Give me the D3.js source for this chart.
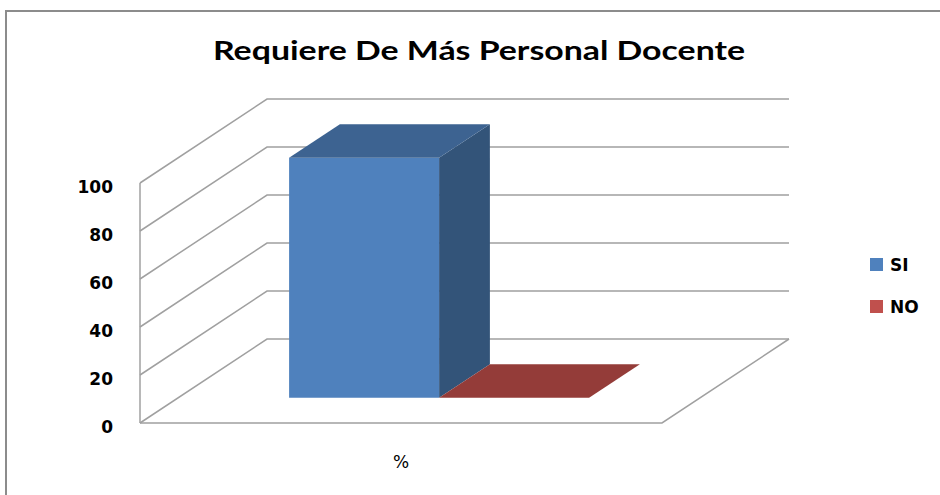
<!DOCTYPE html>
<html>
<head>
<meta charset="utf-8">
<script src="https://cdn.jsdelivr.net/npm/d3@7"></script>
<style>
  html, body { margin: 0; padding: 0; background: #fff; }
  svg { display: block; }
</style>
</head>
<body>
<svg id="chart" width="940" height="495"></svg>
<script>
const title = "Requiere De Más Personal Docente";
const categories = ["%"];
const seriesNames = ["SI", "NO"];
const seriesValues = [100, 0];
const yTicks = [0, 20, 40, 60, 80, 100];

const frontColors = ["#4F81BD", "#C0504D"];
const topColors = ["#3D6391", "#943C39"];
const sideColors = ["#335479", "#7A302E"];
const legendColors = ["#4F81BD", "#C0504D"];

const svg = d3.select("#chart");

// chart border
svg.append("rect")
  .attr("x", 6).attr("y", 11).attr("width", 1200).attr("height", 1200)
  .attr("fill", "none").attr("stroke", "#8c8c8c").attr("stroke-width", 2);

// title
svg.append("text")
  .attr("x", 479).attr("y", 60)
  .attr("text-anchor", "middle")
  .attr("font-family", "Lato, 'Open Sans', sans-serif")
  .attr("font-weight", 700)
  .attr("font-size", 26)
  .attr("textLength", 532)
  .attr("lengthAdjust", "spacingAndGlyphs")
  .attr("fill", "#000")
  .text(title);

// scales
const plotLeft = 140, plotRight = 662;
const depthDX = 127, depthDY = -84;
const y = d3.scaleLinear().domain([0, 100]).range([423, 183]);
const x0 = d3.scaleBand().domain(categories).range([plotLeft, plotRight]).padding(0);
const x1 = d3.scaleBand().domain(seriesNames).range([0, x0.bandwidth()])
  .paddingInner(0).paddingOuter(0.74);

const proj = (x, v, z) => [x + z * depthDX, y(v) + z * depthDY];

const grid = svg.append("g")
  .attr("fill", "none").attr("stroke", "#a0a0a0").attr("stroke-width", 1.5);

// left wall front edge
grid.append("line")
  .attr("x1", plotLeft).attr("y1", y(0))
  .attr("x2", plotLeft).attr("y2", y(100));

// gridlines: diagonal on left wall + horizontal on back wall
yTicks.forEach(t => {
  const a = proj(plotLeft, t, 0), b = proj(plotLeft, t, 1), c = proj(plotRight, t, 1);
  grid.append("polyline")
    .attr("points", [a, b, c].map(p => p.join(",")).join(" "));
});

// floor front and right edges
{
  const a = proj(plotLeft, 0, 0), b = proj(plotRight, 0, 0), c = proj(plotRight, 0, 1);
  grid.append("polyline")
    .attr("points", [a, b, c].map(p => p.join(",")).join(" "));
}

// y axis labels
const yAxis = d3.axisLeft(y).tickValues(yTicks).tickSize(0).tickPadding(27);
const yAxisG = svg.append("g")
  .attr("transform", `translate(${plotLeft},0)`)
  .call(yAxis);
yAxisG.select(".domain").remove();
yAxisG.selectAll("text")
  .attr("font-family", "'DejaVu Sans', Verdana, sans-serif")
  .attr("font-weight", "bold")
  .attr("font-size", 17)
  .attr("fill", "#000")
  .attr("dy", "0.55em");

// bars
const zFront = 0.3, zBack = 0.7;
const bars = svg.append("g");
seriesNames.forEach((s, i) => {
  const v = seriesValues[i];
  const xl = x0(categories[0]) + x1(s);
  const xr = xl + x1.bandwidth();
  const pts = arr => arr.map(p => p.join(",")).join(" ");
  if (v > 0) {
    bars.append("polygon")
      .attr("points", pts([proj(xl, 0, zFront), proj(xr, 0, zFront), proj(xr, v, zFront), proj(xl, v, zFront)]))
      .attr("fill", frontColors[i]);
    bars.append("polygon")
      .attr("points", pts([proj(xr, 0, zFront), proj(xr, 0, zBack), proj(xr, v, zBack), proj(xr, v, zFront)]))
      .attr("fill", sideColors[i]);
  }
  bars.append("polygon")
    .attr("points", pts([proj(xl, v, zFront), proj(xr, v, zFront), proj(xr, v, zBack), proj(xl, v, zBack)]))
    .attr("fill", topColors[i]);
});

// category label
svg.selectAll("text.cat").data(categories).enter().append("text")
  .attr("class", "cat")
  .attr("x", d => x0(d) + x0.bandwidth() / 2)
  .attr("y", 468)
  .attr("text-anchor", "middle")
  .attr("font-family", "'DejaVu Sans', sans-serif")
  .attr("font-size", 17)
  .attr("fill", "#000")
  .text(d => d);

// legend
const legend = svg.append("g");
seriesNames.forEach((s, i) => {
  const gy = 258 + i * 42;
  legend.append("rect")
    .attr("x", 870).attr("y", gy).attr("width", 13).attr("height", 13)
    .attr("fill", legendColors[i]);
  legend.append("text")
    .attr("x", 890).attr("y", gy + 12.5)
    .attr("font-family", "'DejaVu Sans', sans-serif")
    .attr("font-weight", "bold")
    .attr("font-size", 17)
    .attr("fill", "#000")
    .text(s);
});
</script>
</body>
</html>
